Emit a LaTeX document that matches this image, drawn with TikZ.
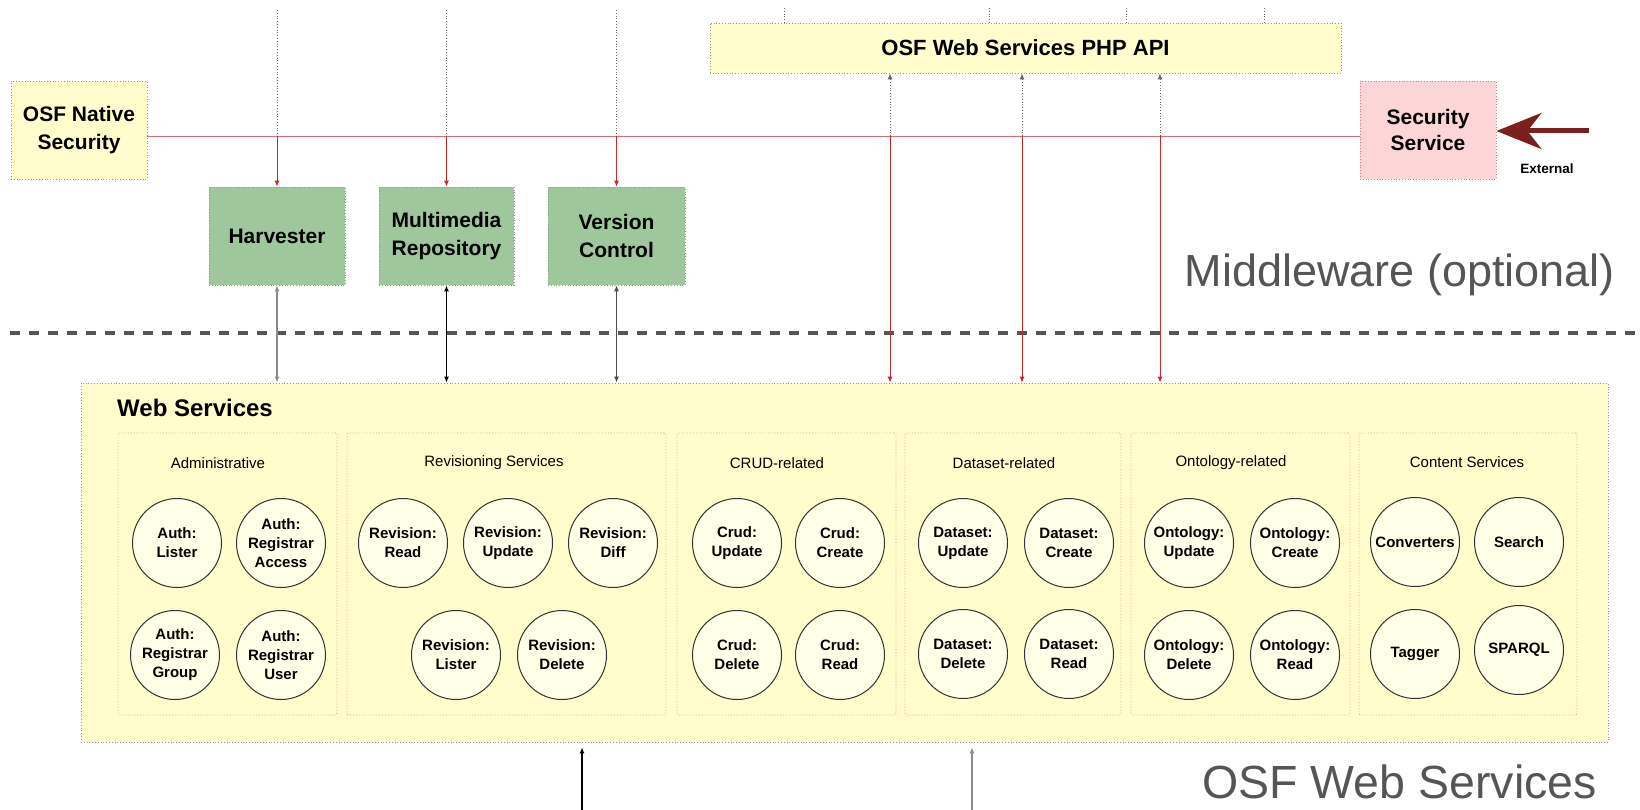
\documentclass[tikz,border=0pt]{standalone}
\usepackage{fontspec}
\setmainfont{Liberation Sans}
\usetikzlibrary{arrows.meta,calc}
\definecolor{ylw}{RGB}{255,253,204}
\definecolor{grn}{RGB}{158,199,156}
\definecolor{pnk}{RGB}{252,214,214}
\definecolor{crm}{RGB}{255,254,230}
\definecolor{dred}{RGB}{122,30,30}
\definecolor{lred}{RGB}{200,40,40}
\definecolor{hred}{RGB}{215,110,110}
\definecolor{subb}{RGB}{222,165,140}
\definecolor{txtg}{RGB}{85,85,85}
\definecolor{bord}{RGB}{150,150,150}
\begin{document}
\begin{tikzpicture}[x=1pt,y=-1pt,
  box/.style={draw=bord, dotted, line width=0.8pt, inner sep=0pt, align=center,
    font=\bfseries\fontsize{21}{28}\selectfont},
  sub/.style={draw=subb, dotted, line width=0.9pt, rounded corners=2pt, inner sep=0pt,
    minimum height=282pt},
  subtitle/.style={font=\fontsize{15}{18}\selectfont, inner sep=0pt},
  circ/.style={circle, draw=black!80, line width=1pt, fill=crm, minimum size=89pt,
    inner sep=0pt, align=center, font=\bfseries\fontsize{15}{19}\selectfont},
  redarr/.style={draw=lred, line width=0.9pt, -{Latex[length=6pt,width=5pt]}},
  dotline/.style={draw=black!60, dotted, line width=0.8pt},
  dotarr/.style={draw=black!60, dotted, line width=0.8pt, -{Latex[length=6pt,width=5pt]}},
  dblarr/.style={line width=1.3pt, {Latex[length=6pt,width=5pt]}-{Latex[length=6pt,width=5pt]}},
  uparr/.style={line width=1.3pt, -{Latex[length=6pt,width=5pt]}, shorten >=5pt},
  bigtxt/.style={text=txtg, font=\fontsize{45}{50}\selectfont, inner sep=0pt}
]
\useasboundingbox (0,0) rectangle (1640,810);

% coordinates
\coordinate (hl) at (0,136);
\coordinate (top) at (0,10);
\coordinate (dl1) at (10,333);
\coordinate (dl2) at (1640,333);

% dashed separator
\draw[txtg, line width=3.5pt, dash pattern=on 10pt off 9pt] (dl1) -- (dl2);

% web services container
\node[draw=bord, dotted, line width=0.8pt, fill=ylw, minimum width=1527pt, minimum height=359pt, inner sep=0pt] (ws) at (844.5,562.5) {};
\node[anchor=west, inner sep=0pt, font=\bfseries\fontsize{24}{28}\selectfont] (wst) at (117,408) {Web Services};

% sub boxes
\node[sub, minimum width=219pt] (sadm) at (227.5,574) {};
\node[sub, minimum width=319pt] (srev) at (506.5,574) {};
\node[sub, minimum width=219pt] (scrud) at (786.5,574) {};
\node[sub, minimum width=216pt] (sds) at (1013,574) {};
\node[sub, minimum width=219pt] (sont) at (1240.5,574) {};
\node[sub, minimum width=218pt] (scon) at (1468,574) {};

\node[subtitle] (tadm) at (218,463) {Administrative};
\node[subtitle] (trev) at (494,463) {Revisioning Services};
\node[subtitle] (tcrud) at (777,463) {CRUD-related};
\node[subtitle] (tds) at (1004,463) {Dataset-related};
\node[subtitle] (tont) at (1231,463) {Ontology-related};
\node[subtitle] (tcon) at (1467,462) {Content Services};

% circles
\node[circ] (c1) at (177,543) {Auth:\\Lister};
\node[circ] (c2) at (281,543) {Auth:\\Registrar\\Access};
\node[circ] (c3) at (175,655) {Auth:\\Registrar\\Group};
\node[circ] (c4) at (281,655) {Auth:\\Registrar\\User};
\node[circ] (c5) at (403,543) {Revision:\\Read};
\node[circ] (c6) at (508,543) {Revision:\\Update};
\node[circ] (c7) at (613,543) {Revision:\\Diff};
\node[circ] (c8) at (456,655) {Revision:\\Lister};
\node[circ] (c9) at (562,655) {Revision:\\Delete};
\node[circ] (c10) at (737,543) {Crud:\\Update};
\node[circ] (c11) at (840,543) {Crud:\\Create};
\node[circ] (c12) at (737,655) {Crud:\\Delete};
\node[circ] (c13) at (840,655) {Crud:\\Read};
\node[circ] (c14) at (963,543) {Dataset:\\Update};
\node[circ] (c15) at (1069,543) {Dataset:\\Create};
\node[circ] (c16) at (963,654) {Dataset:\\Delete};
\node[circ] (c17) at (1069,654) {Dataset:\\Read};
\node[circ] (c18) at (1189,543) {Ontology:\\Update};
\node[circ] (c19) at (1295,543) {Ontology:\\Create};
\node[circ] (c20) at (1189,655) {Ontology:\\Delete};
\node[circ] (c21) at (1295,655) {Ontology:\\Read};
\node[circ] (c22) at (1415,542) {Converters};
\node[circ] (c23) at (1519,542) {Search};
\node[circ] (c24) at (1415,654) {Tagger};
\node[circ] (c25) at (1519,650) {SPARQL};

% top boxes
\node[box, fill=ylw, minimum width=136pt, minimum height=98pt] (osfsec) at (79,130) {OSF Native\\Security};
\node[box, fill=grn, minimum width=136pt, minimum height=98pt] (harv) at (277,236) {Harvester};
\node[box, fill=grn, minimum width=135pt, minimum height=98pt] (multi) at (446.5,236) {Multimedia\\Repository};
\node[box, fill=grn, minimum width=137pt, minimum height=98pt] (vc) at (616.5,236) {Version\\Control};
\node[box, fill=ylw, minimum width=631pt, minimum height=50pt, font=\bfseries\fontsize{22}{26}\selectfont] (php) at (1025.5,48) {OSF Web Services PHP API};
\node[box, draw=lred!60, fill=pnk, minimum width=136pt, minimum height=98pt, font=\bfseries\fontsize{21}{26}\selectfont] (secsvc) at (1428,130) {Security\\Service};

% security line
\draw[hred, line width=0.6pt] (osfsec.east |- hl) -- (secsvc.west |- hl);

% drops to middleware boxes
\foreach \n in {harv,multi,vc}{
  \draw[dotline] (\n.north |- top) -- (\n.north |- hl);
  \draw[redarr] (\n.north |- hl) -- (\n.north);
}
\draw[dblarr, draw=black!45] (harv.south) -- (harv.south |- ws.north);
\draw[dblarr, draw=black] (multi.south) -- (multi.south |- ws.north);
\draw[dblarr, draw=black!70] (vc.south) -- (vc.south |- ws.north);

% php api ticks
\coordinate (p1) at (784,8);
\coordinate (p2) at (989,8);
\coordinate (p3) at (1126,8);
\coordinate (p4) at (1264,8);
\foreach \p in {p1,p2,p3,p4}{ \draw[dotline] (\p) -- (\p |- php.north); }

% api connectors
\coordinate (a1) at (890,136);
\coordinate (a2) at (1022,136);
\coordinate (a3) at (1160,136);
\foreach \a in {a1,a2,a3}{
  \draw[dotarr] (\a) -- (\a |- php.south);
  \draw[redarr] (\a) -- (\a |- ws.north);
}

% external arrow
\coordinate (ext) at (1589,131);
\draw[dred, line width=5pt, -{Stealth[length=45pt,width=36pt,inset=14pt]}] (ext) -- (secsvc.east |- ext);
\node[font=\bfseries\fontsize{13.5}{16}\selectfont, inner sep=0pt] (extl) at (1547,169) {External};

% bottom connectors
\coordinate (b1) at (582,810);
\coordinate (b2) at (972,810);
\draw[uparr, draw=black] (b1) -- (b1 |- ws.south);
\draw[uparr, draw=black!45] (b2) -- (b2 |- ws.south);

% layer labels
\node[bigtxt, anchor=base east] (mw) at (1615,287) {Middleware (optional)};
\node[bigtxt, anchor=base east, font=\fontsize{46.5}{50}\selectfont] (osfws) at (1597,798) {OSF Web Services};
\end{tikzpicture}
\end{document}
